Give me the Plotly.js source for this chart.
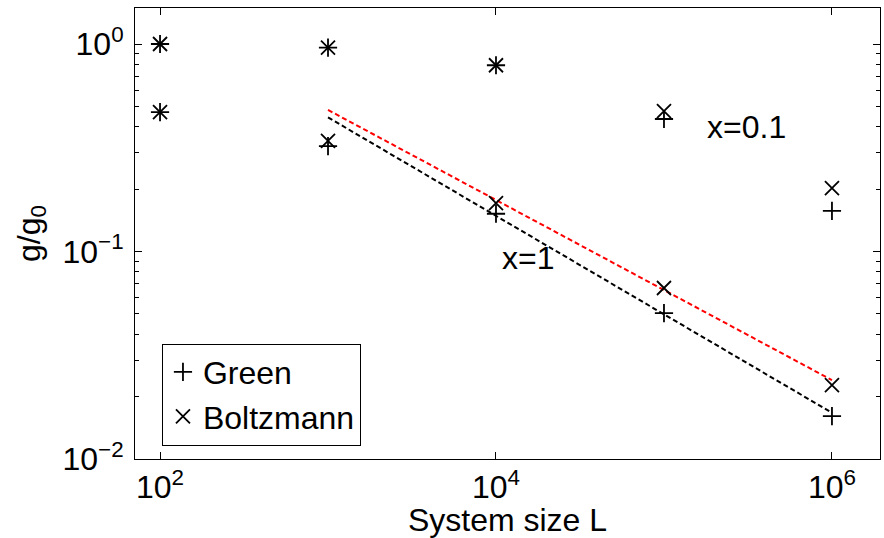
<!DOCTYPE html>
<html>
<head>
<meta charset="utf-8">
<script src="https://cdn.plot.ly/plotly-3.0.1.min.js"></script>
<style>html,body{margin:0;padding:0;background:#fff;}#chart{width:884px;height:538px;}</style>
</head>
<body>
<div id="chart"></div>
<script>
// System sizes L
var sizes = [1e2, 1e3, 1e4, 1e5, 1e6];
// g/g0, x = 0.1
var green01 = [1.0, 0.96, 0.79, 0.435, 0.157];
var boltz01 = [1.0, 0.96, 0.79, 0.475, 0.202];
// g/g0, x = 1
var green1 = [0.47, 0.322, 0.152, 0.0505, 0.0161];
var boltz1 = [0.47, 0.341, 0.171, 0.0667, 0.0227];
// power-law fit lines (x = 1)
var fitL = [1e3, 1e6];
var fitBoltz = [0.481, 0.024];
var fitGreen = [0.443, 0.0167];

var FONT = 'Liberation Sans, Arial, Helvetica, sans-serif';
var FS = 32;
var mk = function (sym, sz) {
  return {symbol: sym, size: sz, color: 'black', line: {color: 'black', width: 1.8}};
};

var traces = [
  {x: fitL, y: fitBoltz, mode: 'lines', showlegend: false, hoverinfo: 'skip',
   line: {color: '#ff0000', width: 2, dash: '5px,3px'}},
  {x: fitL, y: fitGreen, mode: 'lines', showlegend: false, hoverinfo: 'skip',
   line: {color: '#000000', width: 2, dash: '5px,3px'}},
  {x: sizes, y: green01, mode: 'markers', name: 'Green', legendgroup: 'g', marker: mk('cross-thin', 13)},
  {x: sizes, y: green1, mode: 'markers', name: 'Green', legendgroup: 'g', showlegend: false, marker: mk('cross-thin', 13)},
  {x: sizes, y: boltz01, mode: 'markers', name: 'Boltzmann', legendgroup: 'b', marker: mk('x-thin', 14)},
  {x: sizes, y: boltz1, mode: 'markers', name: 'Boltzmann', legendgroup: 'b', showlegend: false, marker: mk('x-thin', 14)}
];

var yMinor = [];
[0.01, 0.1, 1].forEach(function (d) {
  for (var k = 2; k <= 9; k++) yMinor.push(d * k);
});

var layout = {
  width: 884, height: 538,
  margin: {l: 135, r: 4, t: 8, b: 79, pad: 0},
  paper_bgcolor: '#fff', plot_bgcolor: '#fff',
  font: {family: FONT, size: FS, color: '#000'},
  showlegend: true,
  legend: {
    x: 0.0362, y: 0.256, xanchor: 'left', yanchor: 'top',
    bordercolor: '#000', borderwidth: 1, bgcolor: '#fff',
    font: {family: FONT, size: FS, color: '#000'},
    itemwidth: 30, tracegroupgap: 0
  },
  xaxis: {
    type: 'log', range: [1.851, 6.286],
    showgrid: false, zeroline: false,
    showline: true, linecolor: '#000', linewidth: 1, mirror: 'ticks',
    ticks: 'inside', ticklen: 7, tickcolor: '#000', tickwidth: 1,
    tickmode: 'array', tickvals: [1e2, 1e4, 1e6],
    ticktext: ['10<sup>2</sup>', '10<sup>4</sup>', '10<sup>6</sup>'],
    tickfont: {family: FONT, size: FS, color: '#000'},
    title: {text: 'System size L', font: {family: FONT, size: FS, color: '#000'}, standoff: 2}
  },
  yaxis: {
    type: 'log', range: [-2, 0.1735],
    showgrid: false, zeroline: false,
    showline: true, linecolor: '#000', linewidth: 1, mirror: 'ticks',
    ticks: 'inside', ticklen: 7, tickcolor: '#000', tickwidth: 1,
    tickmode: 'array', tickvals: [0.01, 0.1, 1],
    ticktext: ['10<sup>\u22122</sup>', '10<sup>\u22121</sup>', '10<sup>0</sup>'],
    tickfont: {family: FONT, size: FS, color: '#000'},
    ticklabelstandoff: 4,
    minor: {tickmode: 'array', tickvals: yMinor, ticks: 'inside', ticklen: 4, tickcolor: '#000', tickwidth: 1, showgrid: false},
    title: {text: 'g/g<sub>0</sub>', font: {family: FONT, size: FS, color: '#000'}, standoff: 12}
  },
  annotations: [
    {text: 'x=0.1', xref: 'x', yref: 'y', x: 5.244, y: -0.4, xanchor: 'left', yanchor: 'middle',
     showarrow: false, font: {family: FONT, size: FS, color: '#000'}},
    {text: 'x=1', xref: 'x', yref: 'y', x: 4.024, y: -1.031, xanchor: 'left', yanchor: 'middle',
     showarrow: false, font: {family: FONT, size: FS, color: '#000'}}
  ]
};

Plotly.newPlot('chart', traces, layout, {staticPlot: true, displayModeBar: false});
</script>
</body>
</html>
